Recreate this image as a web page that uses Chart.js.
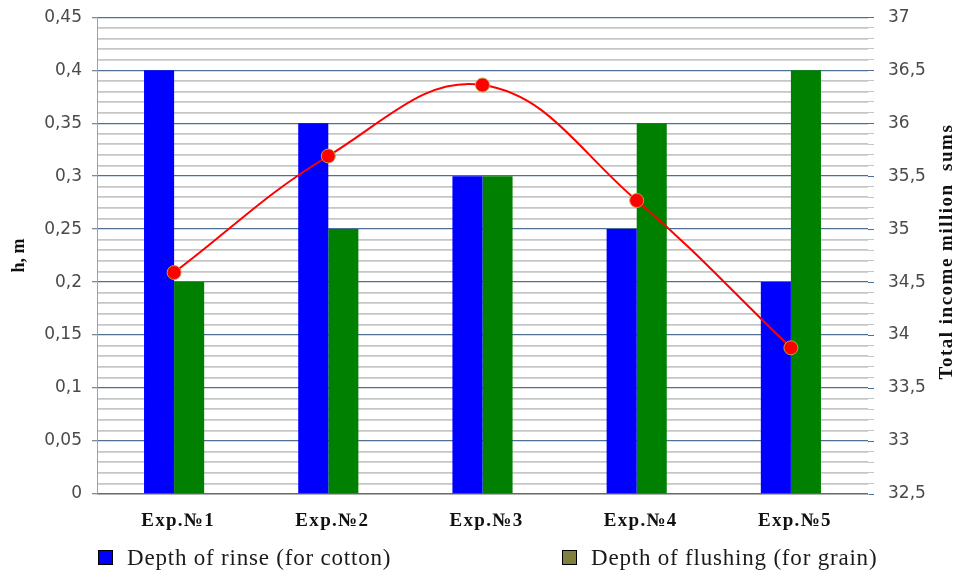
<!DOCTYPE html>
<html>
<head>
  <title>Depth and income chart</title>
  <meta charset="utf-8" />
  <style>
    body {
      margin: 0;
      background: white;
      font-family: "Liberation Serif", serif;
      overflow: hidden;
    }
    #wrap {
      position: relative;
      width: 955px;
      height: 577px;
      overflow: hidden;
    }
    #plot {
      position: absolute;
      top: -7px;
      left: 0;
      width: 955px;
      height: 584px;
    }
    #legend {
      position: absolute;
      top: 545px;
      left: 0;
      width: 955px;
      height: 30px;
      font-size: 23px;
      letter-spacing: 0.8px;
      color: #1a1a1a;
    }
    .leg-item {
      position: absolute;
      top: 0;
      white-space: nowrap;
    }
    .leg-box {
      display: inline-block;
      width: 13px;
      height: 13px;
      border: 1px solid #000;
      margin-right: 14px;
      vertical-align: 0px;
    }
  </style>
</head>
<body>
  <div id="wrap">
    <div id="plot"><canvas id="chart"></canvas></div>
    <div id="legend"></div>
  </div>

  <script src="https://cdn.jsdelivr.net/npm/chart.js"></script>
  <script>
    const categories = ['Exp.№1', 'Exp.№2', 'Exp.№3', 'Exp.№4', 'Exp.№5'];
    const rinseDepth = [0.40, 0.35, 0.30, 0.25, 0.20];
    const flushDepth = [0.20, 0.25, 0.30, 0.35, 0.40];
    const totalIncome = [34.59, 35.69, 36.36, 35.27, 33.88];
    const leftTickLabels = ['0', '0,05', '0,1', '0,15', '0,2', '0,25', '0,3', '0,35', '0,4', '0,45'];
    const rightTickLabels = ['32,5', '33', '33,5', '34', '34,5', '35', '35,5', '36', '36,5', '37'];
    const seriesNames = ['Depth of rinse (for cotton)', 'Depth of flushing (for grain)'];
    const legendColors = ['#0000ff', '#7f7f3f'];
    const legendLeft = [98, 562];

    const majorColor = '#4f6f94';
    const minorColor = '#c6c6c6';
    const tickFont = { family: 'DejaVu Sans', size: 17 };

    function isMajor(v, step) {
      return Math.abs(v / step - Math.round(v / step)) < 1e-6;
    }

    // category labels and right title need letter spacing, so draw them here
    const extraText = {
      id: 'extraText',
      afterDraw(chart) {
        const ctx = chart.ctx;
        const area = chart.chartArea;
        const x = chart.scales.x;
        ctx.save();
        ctx.letterSpacing = '1.3px';
        ctx.font = 'bold 19px "Liberation Serif"';
        ctx.fillStyle = '#111';
        ctx.textAlign = 'center';
        ctx.textBaseline = 'middle';
        categories.forEach((c, i) => {
          ctx.fillText(c, x.getPixelForValue(i) + 4, area.bottom + 27);
        });

        ctx.letterSpacing = '1.5px';
        ctx.translate(947, (area.top + area.bottom) / 2 - 4);
        ctx.rotate(-Math.PI / 2);
        ctx.fillText('Total income million  sums', 0, 0);
        ctx.restore();
      }
    };

    new Chart(document.getElementById('chart'), {
      type: 'bar',
      data: {
        labels: categories,
        datasets: [
          {
            type: 'line',
            label: 'Total income',
            data: totalIncome,
            yAxisID: 'y1',
            borderColor: '#ff0000',
            borderWidth: 2,
            tension: 0.4,
            pointRadius: 7,
            pointBackgroundColor: '#ff0000',
            pointBorderColor: '#c89a48',
            pointBorderWidth: 1,
            order: 0
          },
          {
            label: seriesNames[0],
            data: rinseDepth,
            backgroundColor: '#0000ff',
            yAxisID: 'y',
            categoryPercentage: 0.39,
            barPercentage: 1,
            order: 1
          },
          {
            label: seriesNames[1],
            data: flushDepth,
            backgroundColor: '#008000',
            yAxisID: 'y',
            categoryPercentage: 0.39,
            barPercentage: 1,
            order: 1
          }
        ]
      },
      options: {
        responsive: true,
        maintainAspectRatio: false,
        animation: false,
        layout: { padding: { top: 11, left: 0, right: 0, bottom: 0 } },
        plugins: {
          legend: { display: false },
          tooltip: { enabled: false }
        },
        scales: {
          x: {
            grid: { display: false, drawTicks: false },
            border: { color: '#b0b0b0', width: 1 },
            ticks: { display: false },
            afterFit(scale) { scale.height = 83; }
          },
          y: {
            position: 'left',
            min: 0,
            max: 0.45,
            border: { color: '#a0a0a0', width: 1 },
            grid: {
              color: ctx => isMajor(ctx.tick.value, 0.05) ? majorColor : minorColor,
              lineWidth: ctx => isMajor(ctx.tick.value, 0.05) ? 1.3 : 1.7,
              tickLength: 5,
              tickColor: ctx => isMajor(ctx.tick.value, 0.05) ? '#888' : 'rgba(0,0,0,0)'
            },
            ticks: {
              stepSize: 0.01,
              autoSkip: false,
              font: tickFont,
              color: '#4a4a4a',
              padding: 10,
              callback: v => isMajor(v, 0.05) ? leftTickLabels[Math.round(v / 0.05)] : ''
            },
            title: {
              display: true,
              text: 'h, m',
              font: { family: 'Liberation Serif', size: 18, weight: 'bold' },
              color: '#111',
              padding: { top: 9, bottom: 0 }
            },
            afterFit(scale) { scale.width = 97; }
          },
          y1: {
            position: 'right',
            min: 32.5,
            max: 37,
            border: { display: false },
            grid: {
              drawOnChartArea: false,
              tickLength: 6,
              tickColor: ctx => isMajor(ctx.tick.value - 32.5, 0.5) ? majorColor : minorColor
            },
            ticks: {
              stepSize: 0.1,
              autoSkip: false,
              font: tickFont,
              color: '#4a4a4a',
              padding: 14,
              callback: v => isMajor(v - 32.5, 0.5) ? rightTickLabels[Math.round((v - 32.5) / 0.5)] : ''
            },
            afterFit(scale) { scale.width = 87; }
          }
        }
      },
      plugins: [extraText]
    });

    // legend in HTML so both items sit where the original has them
    const legend = document.getElementById('legend');
    seriesNames.forEach((name, i) => {
      const item = document.createElement('div');
      item.className = 'leg-item';
      item.style.left = legendLeft[i] + 'px';
      item.innerHTML = '<span class="leg-box" style="background:' + legendColors[i] + '"></span>' + name;
      legend.appendChild(item);
    });
  </script>
</body>
</html>
